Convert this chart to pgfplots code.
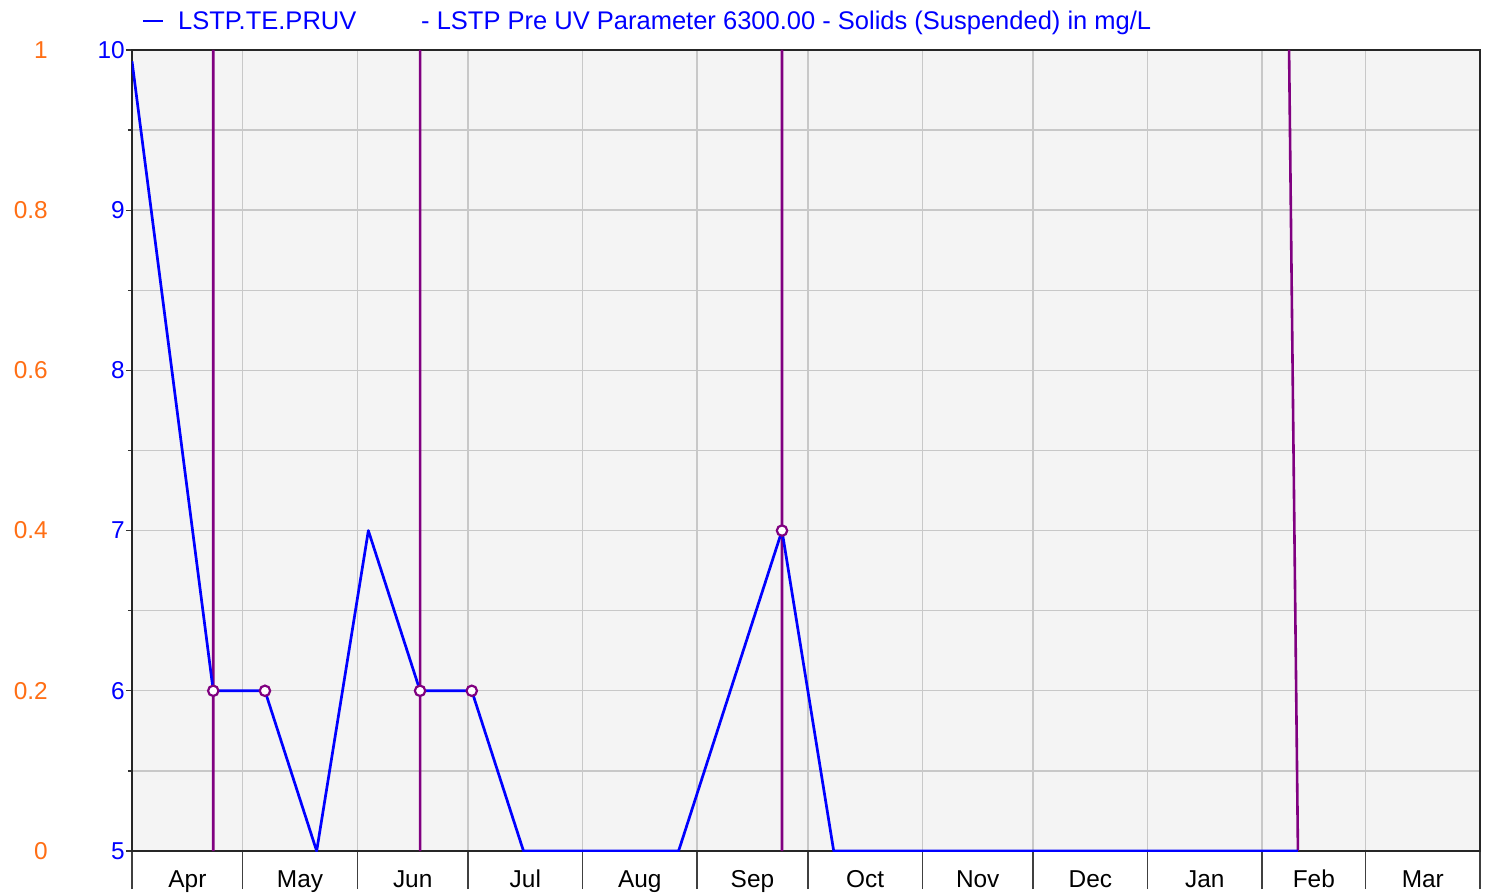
\documentclass[border=0pt]{standalone}
\usepackage{fontspec}
\setmainfont{Liberation Sans}
\usepackage{pgfplots}
\pgfplotsset{compat=1.18}
\definecolor{bgc}{RGB}{244,244,244}
\definecolor{gridc}{RGB}{200,200,200}
\definecolor{orng}{RGB}{255,110,20}
\definecolor{purp}{RGB}{128,0,128}
\definecolor{bl}{RGB}{0,0,255}
\pgfplotsset{every axis/.append style={
  scale only axis, width=1348bp, height=801bp,
  xmin=0, xmax=365,
  /pgf/number format/assume math mode=true,
  tick label style={font=\fontsize{24.5}{28}\selectfont},
}}
\begin{document}
\begin{tikzpicture}[x=1bp,y=1bp]
\useasboundingbox (-132,-44) rectangle (1353,851);
% background, x grid, month labels and separators
\begin{axis}[
  ymin=5, ymax=10,
  axis background/.style={fill=bgc},
  axis line style={draw=none},
  xtick={15,45.5,76,106.5,137.5,168,198.5,229,259.5,290.5,320,349.5},
  xticklabels={Apr,May,Jun,Jul,Aug,Sep,Oct,Nov,Dec,Jan,Feb,Mar},
  minor xtick={0,30,61,91,122,153,183,214,244,275,306,334,365},
  xminorgrids=true,
  minor grid style={gridc, line width=1.4bp},
  major tick length=0pt, minor tick length=38bp, tick align=outside,
  xtick pos=left,
  tick style={black!75, line width=1.3bp},
  ytick=\empty,
  xticklabel style={black, inner sep=0pt, anchor=north, text height=17bp, text depth=5bp, yshift=-19.5bp},
]
\end{axis}
% orange secondary labels
\begin{axis}[
  ymin=0, ymax=1,
  xtick=\empty,
  ytick={0,0.2,0.4,0.6,0.8,1},
  major tick length=0pt,
  axis line style={draw=none},
  ytick pos=left,
  yticklabel style={orng, inner sep=0pt, anchor=east, xshift=-84bp},
]
\end{axis}
% main data axis
\begin{axis}[
  ymin=5, ymax=10,
  xtick=\empty,
  ytick={5,6,7,8,9,10},
  minor ytick={5.5,6.5,7.5,8.5,9.5},
  ymajorgrids=true, yminorgrids=true,
  major grid style={gridc, line width=1.4bp},
  minor grid style={gridc, line width=1.4bp},
  ytick pos=left, tick align=outside,
  major tick length=6bp, minor tick length=4bp,
  tick style={black!80, line width=1.2bp},
  yticklabel style={bl, inner sep=0pt, xshift=-1bp},
  axis line style={black!85, line width=1.6bp},
  unbounded coords=jump,
]
\addplot[purp, line width=2.6bp] coordinates {
  (22,5) (22,10) (22,nan)
  (78,5) (78,10) (78,nan)
  (176,5) (176,10) (176,nan)
  (313.3,10) (315.7,5)
};
\addplot[bl, line width=2.7bp, line join=round] coordinates {
  (0,9.93) (22,6) (36,6) (50,5) (64,7) (78,6) (92,6) (106,5)
  (148,5) (176,7) (190,5) (315.7,5)
};
\addplot[only marks, mark=*, mark size=5.2bp,
  mark options={draw=purp, fill=white, line width=2.2bp}] coordinates {
  (22,6) (36,6) (78,6) (92,6) (176,7)
};
\end{axis}
% legend
\draw[bl, line width=2.8bp] (11,830) -- (31,830);
\node[bl, anchor=base west, inner sep=0pt, font=\fontsize{25.6}{30}\selectfont] at (46,821.5) {LSTP.TE.PRUV};
\node[bl, anchor=base west, inner sep=0pt, font=\fontsize{25.6}{30}\selectfont] at (289,821.5) {- LSTP Pre UV Parameter 6300.00 - Solids (Suspended) in mg/L};
\end{tikzpicture}
\end{document}
